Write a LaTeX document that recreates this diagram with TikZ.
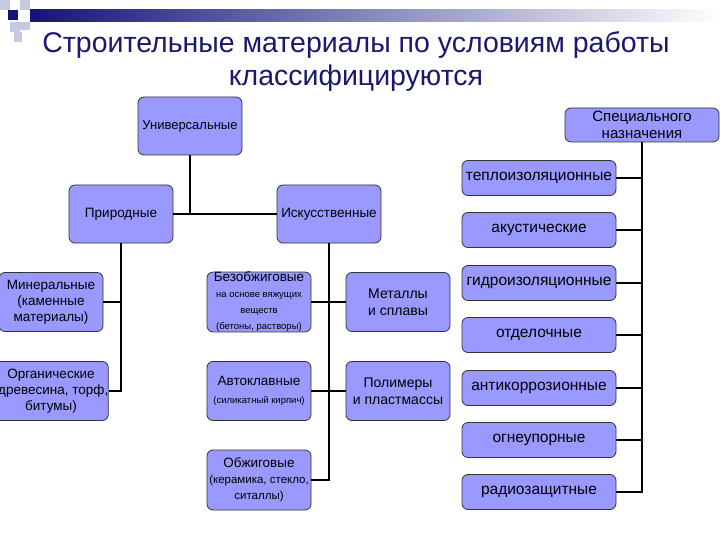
\documentclass[tikz,border=0pt]{standalone}
\usepackage{fontspec}
\setmainfont{Liberation Sans}
\definecolor{boxfill}{RGB}{153,153,255}
\definecolor{titleblue}{RGB}{25,25,110}
\definecolor{navy}{RGB}{20,20,120}
\definecolor{sq}{RGB}{200,200,225}
\newcommand{\sma}{\fontsize{9.5}{11}\selectfont}
\newcommand{\smb}{\fontsize{11.5}{14}\selectfont}
\begin{document}
\begin{tikzpicture}[x=1pt,y=-1pt,
  bx/.style={draw=black!80,fill=boxfill,rounded corners=6pt,line width=0.8pt,inner sep=0pt,align=center,font=\fontsize{13.5}{16}\selectfont},
  rb/.style={bx,minimum width=154,minimum height=35,font=\fontsize{15.5}{17}\selectfont},
  ln/.style={line width=2pt,black}]
\useasboundingbox (0,0) rectangle (720,540);
\fill[white] (0,0) rectangle (720,540);
% decoration
\shade[left color=navy,right color=white] (30,10) rectangle (720,22);
\fill[sq] (0,0) rectangle (10,10);
\fill[sq] (20,0) rectangle (30,10);
\fill[sq] (10,22) rectangle (20,32);
\fill[sq] (20,22) rectangle (30,30);
\fill[sq] (14,32) rectangle (22,42);
\fill[navy] (8,10) rectangle (18,20);
% title
\node[text=titleblue,align=center,font=\fontsize{28.5}{33}\selectfont] (title) at (356,62) {Строительные материалы по условиям работы\\классифицируются};
% boxes
\node[bx,minimum width=104,minimum height=58,font=\fontsize{13}{15}\selectfont] (univ) at (190,126) {Универсальные};
\node[bx,minimum width=154,minimum height=34,font=\fontsize{15}{17}\selectfont] (spec) at (642,125) {Специального\\назначения};
\node[bx,minimum width=104,minimum height=58] (prir) at (121,214) {Природные};
\node[bx,minimum width=104,minimum height=58] (isk) at (329,214) {Искусственные};
\node[bx,minimum width=104,minimum height=59] (min) at (51,302) {Минеральные\\(каменные\\материалы)};
\node[bx,minimum width=104,minimum height=59] (org) at (51,391) {Органические\\(древесина, торф,\\битумы)};
\node[bx,minimum width=104,minimum height=59] (bez) at (259,302) {Безобжиговые\\\sma на основе вяжущих\\\sma веществ\\\sma (бетоны, растворы)};
\node[bx,minimum width=104,minimum height=59] (avt) at (259,391) {Автоклавные\\[2pt]\sma (силикатный кирпич)};
\node[bx,minimum width=104,minimum height=59,font=\fontsize{14}{17}\selectfont] (met) at (398,302) {Металлы\\и сплавы};
\node[bx,minimum width=104,minimum height=59,font=\fontsize{14}{17}\selectfont] (pol) at (398,391) {Полимеры\\и пластмассы};
\node[bx,minimum width=104,minimum height=60] (obzh) at (259,480) {Обжиговые\\\smb (керамика, стекло,\\\smb ситаллы)};
\node[rb] (r1) at (539,178) {теплоизоляционные};
\node[rb] (r2) at (539,230) {акустические};
\node[rb] (r3) at (539,283) {гидроизоляционные};
\node[rb] (r4) at (539,335) {отделочные};
\node[rb] (r5) at (539,388) {антикоррозионные};
\node[rb] (r6) at (539,440) {огнеупорные};
\node[rb] (r7) at (539,492) {радиозащитные};
% connectors
\draw[ln] (univ.south) -- (univ.south |- prir.east);
\draw[ln] (prir.east) -- (isk.west);
\draw[ln] (prir.south) |- (org.east);
\draw[ln] (min.east) -- (min.east -| prir.south);
\draw[ln] (isk.south) |- (obzh.east);
\draw[ln] (bez.east) -- (met.west);
\draw[ln] (avt.east) -- (pol.west);
\draw[ln] (spec.south) |- (r7.east);
\foreach \r in {r1,r2,r3,r4,r5,r6} \draw[ln] (\r.east) -- (\r.east -| spec.south);
\end{tikzpicture}
\end{document}
